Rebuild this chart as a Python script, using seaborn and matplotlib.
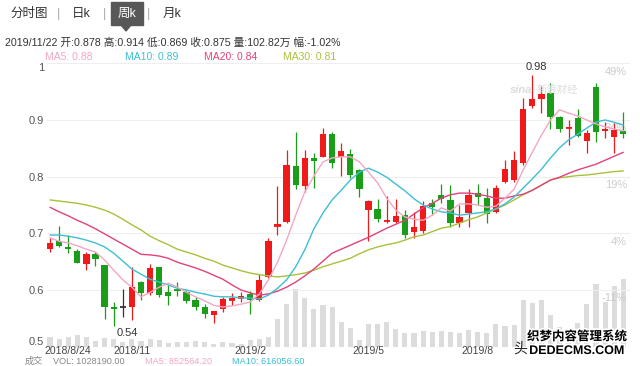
import numpy as np
import pandas as pd
import matplotlib
matplotlib.use("Agg")
import matplotlib.pyplot as plt
import seaborn as sns
from matplotlib.patches import Rectangle, Polygon
import matplotlib.patheffects as pe

# ---------------- data (weekly candles, price) ----------------
open_ = [0.672,0.686,0.676,0.669,0.646,0.664,0.644,0.570,0.570,0.570,
         0.614,0.594,0.641,0.596,0.600,0.596,0.582,0.570,0.556,0.567,
         0.583,0.586,0.593,0.582,0.623,0.713,0.720,0.819,0.784,0.833,
         0.835,0.875,0.835,0.840,0.812,0.741,0.743,0.722,0.720,0.732,
         0.702,0.704,0.753,0.768,0.759,0.718,0.736,0.771,0.762,0.738,
         0.791,0.794,0.824,0.925,0.937,0.948,0.905,0.886,0.904,0.863,
         0.958,0.880,0.870,0.878]
high = [0.692,0.713,0.697,0.673,0.667,0.667,0.645,0.579,0.602,0.641,
        0.616,0.646,0.641,0.609,0.614,0.600,0.587,0.575,0.563,0.588,
        0.595,0.597,0.598,0.628,0.692,0.784,0.847,0.879,0.847,0.842,
        0.886,0.879,0.859,0.849,0.814,0.759,0.761,0.766,0.761,0.741,
        0.738,0.757,0.761,0.787,0.785,0.750,0.778,0.787,0.780,0.785,
        0.829,0.845,0.939,0.980,0.960,0.965,0.907,0.900,0.920,0.882,
        0.965,0.896,0.894,0.914]
low = [0.667,0.676,0.665,0.647,0.636,0.642,0.549,0.536,0.552,0.547,
       0.582,0.591,0.588,0.574,0.590,0.577,0.564,0.550,0.542,0.561,
       0.573,0.578,0.558,0.580,0.621,0.697,0.718,0.778,0.773,0.780,
       0.835,0.815,0.801,0.798,0.764,0.686,0.720,0.719,0.719,0.692,
       0.692,0.700,0.732,0.753,0.711,0.711,0.711,0.750,0.718,0.736,
       0.789,0.791,0.821,0.921,0.912,0.884,0.879,0.856,0.870,0.842,
       0.861,0.868,0.842,0.869]
close = [0.683,0.678,0.672,0.648,0.664,0.655,0.570,0.566,0.570,0.605,
         0.594,0.639,0.591,0.590,0.598,0.580,0.570,0.558,0.563,0.584,
         0.586,0.589,0.582,0.618,0.686,0.716,0.821,0.785,0.833,0.828,
         0.875,0.824,0.845,0.803,0.778,0.757,0.725,0.724,0.731,0.697,
         0.711,0.748,0.747,0.760,0.718,0.729,0.768,0.764,0.734,0.780,
         0.814,0.829,0.919,0.937,0.946,0.905,0.884,0.888,0.872,0.877,
         0.879,0.884,0.882,0.875]
# volume in 万 shares
volume = [15.1,12.1,15.1,18.1,15.1,9.1,13.6,12.1,7.6,12.1,
          9.1,12.1,10.6,6.0,7.6,7.6,9.1,7.6,4.5,7.6,
          6.0,4.5,10.6,12.1,15.1,42.3,65.0,87.7,74.1,57.5,
          63.5,60.5,37.8,28.7,10.6,34.8,34.8,37.8,27.2,21.2,
          21.2,24.2,22.7,24.2,22.7,21.2,25.7,22.7,21.2,34.8,
          31.8,33.3,71.1,66.5,71.1,48.4,30.2,27.2,36.3,65.0,
          95.3,68.0,92.2,102.82]
ma5 = [0.692,0.686,0.683,0.678,0.672,0.667,0.653,0.635,0.618,0.605,
       0.588,0.596,0.605,0.612,0.605,0.596,0.588,0.581,0.573,0.570,
       0.572,0.575,0.579,0.593,0.618,0.649,0.688,0.732,0.773,0.801,
       0.826,0.833,0.835,0.835,0.826,0.808,0.789,0.762,0.741,0.729,
       0.725,0.723,0.732,0.745,0.739,0.752,0.752,0.750,0.746,0.748,
       0.762,0.778,0.812,0.843,0.873,0.900,0.918,0.912,0.907,0.900,
       0.893,0.888,0.884,0.881]
ma10 = [0.697,0.697,0.695,0.692,0.688,0.683,0.676,0.665,0.651,0.637,
        0.628,0.619,0.614,0.609,0.603,0.600,0.596,0.593,0.589,0.588,
        0.588,0.586,0.586,0.584,0.591,0.603,0.618,0.641,0.671,0.708,
        0.736,0.759,0.776,0.794,0.808,0.815,0.808,0.799,0.787,0.775,
        0.761,0.750,0.743,0.738,0.736,0.732,0.734,0.736,0.738,0.743,
        0.752,0.764,0.780,0.796,0.813,0.833,0.851,0.865,0.875,0.886,
        0.896,0.900,0.896,0.891]
ma20 = [0.746,0.738,0.731,0.723,0.716,0.708,0.699,0.690,0.681,0.672,
        0.663,0.662,0.660,0.656,0.649,0.644,0.639,0.633,0.626,0.619,
        0.609,0.600,0.595,0.591,0.593,0.598,0.605,0.614,0.625,0.637,
        0.651,0.665,0.672,0.679,0.686,0.693,0.701,0.709,0.716,0.723,
        0.734,0.745,0.753,0.762,0.768,0.771,0.771,0.769,0.766,0.762,
        0.762,0.766,0.769,0.776,0.785,0.794,0.799,0.806,0.812,0.817,
        0.822,0.829,0.836,0.843]
ma30 = [0.759,0.757,0.755,0.753,0.750,0.746,0.741,0.734,0.725,0.715,
        0.706,0.695,0.687,0.680,0.672,0.667,0.662,0.656,0.651,0.644,
        0.639,0.634,0.630,0.627,0.625,0.623,0.625,0.627,0.630,0.635,
        0.641,0.646,0.651,0.656,0.664,0.671,0.676,0.680,0.683,0.688,
        0.694,0.697,0.703,0.709,0.712,0.718,0.724,0.729,0.736,0.743,
        0.750,0.759,0.768,0.776,0.785,0.794,0.798,0.800,0.802,0.803,
        0.805,0.807,0.809,0.810]

x_tick_pos = [2, 9, 22, 35, 47]
x_tick_labels = ["2018/8/24", "2018/11", "2019/2", "2019/5", "2019/8"]
x_grid_pos = [9, 22, 35, 47]
y_ticks = [0.5, 0.6, 0.7, 0.8, 0.9, 1.0]
y_tick_labels = ["0.5", "0.6", "0.7", "0.8", "0.9", "1"]
pct_prices = [1.0, 0.9, 0.8, 0.7, 0.6]
pct_labels = ["49%", "34%", "19%", "4%", "-11%"]

C_UP, C_DN, C_FLAT = "#f01a1a", "#1a9e1a", "#333333"
C_MA5, C_MA10, C_MA20, C_MA30 = "#f4a6c4", "#3cbfd4", "#e2417c", "#a6c23a"

# ---------------- figure ----------------
sns.set_theme(style="white")
plt.rcParams["font.family"] = ["Liberation Sans", "Noto Sans CJK SC", "DejaVu Sans"]

W, H = 640, 366
fig = plt.figure(figsize=(W / 100, H / 100), dpi=100)
fig.patch.set_facecolor("white")
fx = lambda px: px / W
fy = lambda py: 1 - py / H

L, R, T, B = 47, 630, 63.3, 346.7
ax = fig.add_axes([fx(L), fy(B), fx(R) - fx(L), fy(T) - fy(B)])
axv = ax.twinx()
ax.set_zorder(axv.get_zorder() + 1)
ax.patch.set_visible(False)

idx = np.arange(len(close))
o = np.array(open_); c = np.array(close); h = np.array(high); l = np.array(low)

# volume bars (background)
axv.bar(idx, volume, width=0.55, color="#dcdcdc", linewidth=0)
axv.set_ylim(0, 428.5)
axv.set_yticks([])
for s in axv.spines.values():
    s.set_visible(False)

# candles
cols = np.where(c > o, C_UP, np.where(c < o, C_DN, C_FLAT))
ax.vlines(idx, l, h, colors=cols, linewidth=0.9, zorder=3)
ax.bar(idx, np.abs(c - o), bottom=np.minimum(o, c), width=0.7,
       color=cols, linewidth=0, zorder=4)
small = np.abs(c - o) < 0.004
ax.hlines(o[small], idx[small] - 0.35, idx[small] + 0.35,
          colors=cols[small], linewidth=1.3, zorder=4)

# moving averages
df = pd.DataFrame({"idx": idx, "MA5": ma5, "MA10": ma10, "MA20": ma20, "MA30": ma30})
for name, col in [("MA30", C_MA30), ("MA20", C_MA20), ("MA10", C_MA10), ("MA5", C_MA5)]:
    sns.lineplot(data=df, x="idx", y=name, ax=ax, color=col, linewidth=1.0,
                 legend=False, zorder=5)

ax.set_xlim((L - 50) / 9.1, (R - 50) / 9.1)
ax.set_ylim(0.5, 1.0)
ax.set_xlabel(""); ax.set_ylabel("")
for s in ax.spines.values():
    s.set_visible(False)

ax.set_yticks(y_ticks)
ax.set_yticklabels(y_tick_labels, fontsize=8, color="#555555")
ax.tick_params(axis="y", length=0, pad=2)
ylabs = ax.get_yticklabels()
ylabs[0].set_verticalalignment("bottom")
ylabs[-1].set_verticalalignment("top")
ax.grid(True, which="major", axis="y", color="#eeeeee", linewidth=0.8)

ax.set_xticks(x_tick_pos)
ax.set_xticklabels(x_tick_labels, fontsize=7.5, color="#444444")
ax.set_xticks(x_grid_pos, minor=True)
ax.tick_params(axis="x", which="both", length=0, pad=-0.5)
ax.grid(True, which="minor", axis="x", color="#eeeeee", linewidth=0.8)
ax.grid(False, which="major", axis="x")
ax.set_axisbelow(True)

# right-side percentage labels
for p, t in zip(pct_prices, pct_labels):
    ax.annotate(t, xy=(0.995, p), xycoords=ax.get_yaxis_transform(),
                xytext=(0, -2.5), textcoords="offset points",
                ha="right", va="top", fontsize=8, color="#cccccc", zorder=1)

# high / low labels
imax = int(np.argmax(h)); imin = int(np.argmin(l))
ax.annotate(f"{h[imax]:.2f}", xy=(imax, h[imax]), xytext=(3, 2),
            textcoords="offset points", ha="center", va="bottom",
            fontsize=8, color="#333333", zorder=6)
ax.annotate(f"{l[imin]:.2f}", xy=(imin, l[imin]), xytext=(10, -1),
            textcoords="offset points", ha="center", va="top",
            fontsize=8, color="#333333", zorder=6)

# sina watermark
fig.text(fx(510), fy(90), "sina", fontsize=8, color="#dddddd",
         style="italic", fontweight="bold", ha="left", va="center")
fig.text(fx(537), fy(90), "新浪财经", fontsize=7.5, color="#dddddd",
         ha="left", va="center")

# ---------------- header ----------------
fig.text(fx(10), fy(14), "分时图", fontsize=9, color="#333333", ha="left", va="center")
for xp in (59, 104, 149):
    fig.text(fx(xp), fy(14), "|", fontsize=9, color="#aaaaaa", ha="center", va="center")
fig.text(fx(72), fy(14), "日k", fontsize=9, color="#333333", ha="left", va="center")
fig.add_artist(Rectangle((fx(111), fy(25)), fx(143) - fx(111), fy(2) - fy(25),
                         transform=fig.transFigure, color="#585858", zorder=1))
fig.add_artist(Polygon([(fx(121), fy(25)), (fx(131), fy(25)), (fx(126), fy(31))],
                       closed=True, transform=fig.transFigure, color="#585858", zorder=1))
fig.text(fx(127), fy(14), "周k", fontsize=9, color="white", ha="center", va="center", zorder=2)
fig.text(fx(163), fy(14), "月k", fontsize=9, color="#333333", ha="left", va="center")

fig.text(fx(5), fy(43),
         "2019/11/22 开:0.878 高:0.914 低:0.869 收:0.875 量:102.82万 幅:-1.02%",
         fontsize=7.7, color="#333333", ha="left", va="center")

for xp, t, col in [(45, "MA5: 0.88", C_MA5), (125, "MA10: 0.89", C_MA10),
                   (204, "MA20: 0.84", C_MA20), (283, "MA30: 0.81", C_MA30)]:
    fig.text(fx(xp), fy(57), t, fontsize=7.5, color=col, ha="left", va="center")

# ---------------- footer ----------------
fy_foot = 366
fkw = dict(fontsize=6.6, ha="left", va="bottom")
fig.text(fx(25), fy(fy_foot), "成交", color="#888888", **fkw)
fig.text(fx(53), fy(fy_foot), "VOL: 1028190.00", color="#888888", **fkw)
fig.text(fx(145), fy(fy_foot), "MA5: 852564.20", color=C_MA5, **fkw)
fig.text(fx(232), fy(fy_foot), "MA10: 616056.60", color=C_MA10, **fkw)

# overlay watermark
fig.text(fx(513), fy(349), "头", fontsize=10, color="#222222", ha="left", va="center")
stroke = [pe.withStroke(linewidth=2.5, foreground="white")]
fig.text(fx(577), fy(337), "织梦内容管理系统", fontsize=9, fontweight="bold",
         color="black", ha="center", va="center", path_effects=stroke)
fig.text(fx(577), fy(351), "DEDECMS.COM", fontsize=9, fontweight="bold",
         color="black", ha="center", va="center", path_effects=stroke)

fig.savefig("out.png", dpi=100)
